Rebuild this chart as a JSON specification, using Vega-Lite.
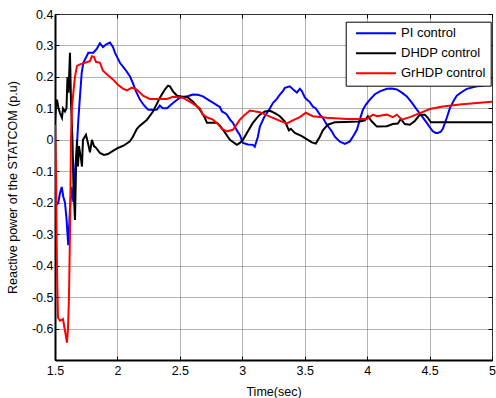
{
  "$schema": "https://vega.github.io/schema/vega-lite/v6.json",
  "width": 437,
  "height": 346,
  "autosize": "none",
  "padding": {"left": 55, "top": 14, "right": 4, "bottom": 38},
  "background": "white",
  "config": {
    "font": "Liberation Sans",
    "view": {"stroke": "black", "strokeWidth": 1},
    "axis": {
      "labelFont": "Liberation Sans", "labelFontSize": 12.5, "labelColor": "black",
      "titleFont": "Liberation Sans", "titleFontSize": 12.5, "titleFontWeight": "normal", "titleColor": "black",
      "domainColor": "black", "domainWidth": 2,
      "tickColor": "black", "tickSize": -4, "tickWidth": 1,
      "gridColor": "#666666", "gridDash": [1, 1], "gridWidth": 1, "gridOpacity": 1
    }
  },
  "data": {"values": [
    {"s":"PI control","t":1.5,"v":-0.19},{"s":"PI control","t":1.516,"v":-0.205},{"s":"PI control","t":1.526,"v":-0.2},{"s":"PI control","t":1.54,"v":-0.17},{"s":"PI control","t":1.554,"v":-0.15},{"s":"PI control","t":1.566,"v":-0.18},{"s":"PI control","t":1.58,"v":-0.2},{"s":"PI control","t":1.592,"v":-0.25},{"s":"PI control","t":1.606,"v":-0.335},{"s":"PI control","t":1.62,"v":-0.22},{"s":"PI control","t":1.632,"v":-0.15},{"s":"PI control","t":1.647,"v":-0.197},{"s":"PI control","t":1.66,"v":-0.1},{"s":"PI control","t":1.674,"v":-0.03},{"s":"PI control","t":1.687,"v":0.064},{"s":"PI control","t":1.7,"v":0.138},{"s":"PI control","t":1.714,"v":0.214},{"s":"PI control","t":1.727,"v":0.245},{"s":"PI control","t":1.767,"v":0.277},{"s":"PI control","t":1.807,"v":0.277},{"s":"PI control","t":1.836,"v":0.29},{"s":"PI control","t":1.86,"v":0.307},{"s":"PI control","t":1.884,"v":0.295},{"s":"PI control","t":1.908,"v":0.303},{"s":"PI control","t":1.94,"v":0.309},{"s":"PI control","t":1.964,"v":0.295},{"s":"PI control","t":1.98,"v":0.277},{"s":"PI control","t":2.02,"v":0.245},{"s":"PI control","t":2.06,"v":0.225},{"s":"PI control","t":2.1,"v":0.202},{"s":"PI control","t":2.124,"v":0.18},{"s":"PI control","t":2.148,"v":0.155},{"s":"PI control","t":2.18,"v":0.128},{"s":"PI control","t":2.212,"v":0.11},{"s":"PI control","t":2.245,"v":0.096},{"s":"PI control","t":2.285,"v":0.095},{"s":"PI control","t":2.317,"v":0.096},{"s":"PI control","t":2.34,"v":0.109},{"s":"PI control","t":2.364,"v":0.1},{"s":"PI control","t":2.397,"v":0.1},{"s":"PI control","t":2.445,"v":0.117},{"s":"PI control","t":2.5,"v":0.134},{"s":"PI control","t":2.557,"v":0.138},{"s":"PI control","t":2.605,"v":0.144},{"s":"PI control","t":2.645,"v":0.143},{"s":"PI control","t":2.685,"v":0.138},{"s":"PI control","t":2.725,"v":0.128},{"s":"PI control","t":2.765,"v":0.118},{"s":"PI control","t":2.805,"v":0.108},{"s":"PI control","t":2.82,"v":0.105},{"s":"PI control","t":2.837,"v":0.09},{"s":"PI control","t":2.861,"v":0.085},{"s":"PI control","t":2.877,"v":0.08},{"s":"PI control","t":2.9,"v":0.065},{"s":"PI control","t":2.925,"v":0.054},{"s":"PI control","t":2.957,"v":0.03},{"s":"PI control","t":2.981,"v":0.015},{"s":"PI control","t":3.005,"v":-0.01},{"s":"PI control","t":3.045,"v":-0.015},{"s":"PI control","t":3.085,"v":-0.016},{"s":"PI control","t":3.1,"v":-0.022},{"s":"PI control","t":3.125,"v":0.01},{"s":"PI control","t":3.141,"v":0.042},{"s":"PI control","t":3.173,"v":0.07},{"s":"PI control","t":3.197,"v":0.085},{"s":"PI control","t":3.221,"v":0.1},{"s":"PI control","t":3.245,"v":0.117},{"s":"PI control","t":3.277,"v":0.13},{"s":"PI control","t":3.301,"v":0.144},{"s":"PI control","t":3.325,"v":0.155},{"s":"PI control","t":3.341,"v":0.165},{"s":"PI control","t":3.381,"v":0.17},{"s":"PI control","t":3.413,"v":0.158},{"s":"PI control","t":3.437,"v":0.15},{"s":"PI control","t":3.461,"v":0.162},{"s":"PI control","t":3.477,"v":0.155},{"s":"PI control","t":3.501,"v":0.135},{"s":"PI control","t":3.517,"v":0.128},{"s":"PI control","t":3.541,"v":0.12},{"s":"PI control","t":3.565,"v":0.106},{"s":"PI control","t":3.589,"v":0.1},{"s":"PI control","t":3.621,"v":0.08},{"s":"PI control","t":3.645,"v":0.07},{"s":"PI control","t":3.677,"v":0.048},{"s":"PI control","t":3.693,"v":0.04},{"s":"PI control","t":3.717,"v":0.027},{"s":"PI control","t":3.741,"v":0.01},{"s":"PI control","t":3.782,"v":-0.006},{"s":"PI control","t":3.822,"v":-0.013},{"s":"PI control","t":3.862,"v":-0.005},{"s":"PI control","t":3.894,"v":0.015},{"s":"PI control","t":3.918,"v":0.032},{"s":"PI control","t":3.942,"v":0.065},{"s":"PI control","t":3.966,"v":0.096},{"s":"PI control","t":3.99,"v":0.112},{"s":"PI control","t":4.022,"v":0.128},{"s":"PI control","t":4.062,"v":0.145},{"s":"PI control","t":4.102,"v":0.154},{"s":"PI control","t":4.158,"v":0.162},{"s":"PI control","t":4.198,"v":0.163},{"s":"PI control","t":4.238,"v":0.16},{"s":"PI control","t":4.278,"v":0.15},{"s":"PI control","t":4.318,"v":0.138},{"s":"PI control","t":4.358,"v":0.118},{"s":"PI control","t":4.398,"v":0.096},{"s":"PI control","t":4.438,"v":0.075},{"s":"PI control","t":4.478,"v":0.054},{"s":"PI control","t":4.502,"v":0.04},{"s":"PI control","t":4.526,"v":0.027},{"s":"PI control","t":4.55,"v":0.022},{"s":"PI control","t":4.566,"v":0.022},{"s":"PI control","t":4.59,"v":0.026},{"s":"PI control","t":4.606,"v":0.035},{"s":"PI control","t":4.638,"v":0.07},{"s":"PI control","t":4.662,"v":0.1},{"s":"PI control","t":4.694,"v":0.125},{"s":"PI control","t":4.718,"v":0.14},{"s":"PI control","t":4.758,"v":0.152},{"s":"PI control","t":4.798,"v":0.162},{"s":"PI control","t":4.838,"v":0.166},{"s":"PI control","t":4.878,"v":0.17},{"s":"PI control","t":4.91,"v":0.171},{"s":"PI control","t":4.942,"v":0.174},{"s":"PI control","t":4.966,"v":0.182},{"s":"PI control","t":4.982,"v":0.192},{"s":"PI control","t":5.0,"v":0.2},

    {"s":"DHDP control","t":1.5,"v":0.06},{"s":"DHDP control","t":1.508,"v":0.11},{"s":"DHDP control","t":1.516,"v":0.128},{"s":"DHDP control","t":1.528,"v":0.1},{"s":"DHDP control","t":1.54,"v":0.085},{"s":"DHDP control","t":1.556,"v":0.07},{"s":"DHDP control","t":1.564,"v":0.1},{"s":"DHDP control","t":1.58,"v":0.09},{"s":"DHDP control","t":1.592,"v":0.1},{"s":"DHDP control","t":1.6,"v":0.2},{"s":"DHDP control","t":1.608,"v":0.15},{"s":"DHDP control","t":1.62,"v":0.277},{"s":"DHDP control","t":1.628,"v":0.12},{"s":"DHDP control","t":1.64,"v":0.0},{"s":"DHDP control","t":1.648,"v":-0.15},{"s":"DHDP control","t":1.66,"v":-0.255},{"s":"DHDP control","t":1.668,"v":-0.1},{"s":"DHDP control","t":1.676,"v":0.0},{"s":"DHDP control","t":1.684,"v":-0.085},{"s":"DHDP control","t":1.692,"v":-0.02},{"s":"DHDP control","t":1.708,"v":-0.06},{"s":"DHDP control","t":1.716,"v":-0.085},{"s":"DHDP control","t":1.724,"v":0.0},{"s":"DHDP control","t":1.748,"v":0.016},{"s":"DHDP control","t":1.764,"v":-0.01},{"s":"DHDP control","t":1.78,"v":-0.04},{"s":"DHDP control","t":1.796,"v":0.0},{"s":"DHDP control","t":1.812,"v":-0.02},{"s":"DHDP control","t":1.828,"v":-0.025},{"s":"DHDP control","t":1.86,"v":-0.042},{"s":"DHDP control","t":1.892,"v":-0.048},{"s":"DHDP control","t":1.924,"v":-0.045},{"s":"DHDP control","t":1.964,"v":-0.035},{"s":"DHDP control","t":2.004,"v":-0.026},{"s":"DHDP control","t":2.052,"v":-0.018},{"s":"DHDP control","t":2.1,"v":-0.005},{"s":"DHDP control","t":2.124,"v":0.01},{"s":"DHDP control","t":2.156,"v":0.035},{"s":"DHDP control","t":2.18,"v":0.045},{"s":"DHDP control","t":2.237,"v":0.064},{"s":"DHDP control","t":2.285,"v":0.09},{"s":"DHDP control","t":2.317,"v":0.115},{"s":"DHDP control","t":2.34,"v":0.134},{"s":"DHDP control","t":2.38,"v":0.16},{"s":"DHDP control","t":2.405,"v":0.172},{"s":"DHDP control","t":2.42,"v":0.17},{"s":"DHDP control","t":2.445,"v":0.154},{"s":"DHDP control","t":2.477,"v":0.14},{"s":"DHDP control","t":2.525,"v":0.137},{"s":"DHDP control","t":2.557,"v":0.137},{"s":"DHDP control","t":2.605,"v":0.121},{"s":"DHDP control","t":2.661,"v":0.096},{"s":"DHDP control","t":2.7,"v":0.07},{"s":"DHDP control","t":2.717,"v":0.054},{"s":"DHDP control","t":2.797,"v":0.054},{"s":"DHDP control","t":2.821,"v":0.045},{"s":"DHDP control","t":2.845,"v":0.032},{"s":"DHDP control","t":2.901,"v":0.0},{"s":"DHDP control","t":2.957,"v":-0.016},{"s":"DHDP control","t":2.981,"v":-0.01},{"s":"DHDP control","t":3.005,"v":0.0},{"s":"DHDP control","t":3.037,"v":0.022},{"s":"DHDP control","t":3.061,"v":0.038},{"s":"DHDP control","t":3.085,"v":0.054},{"s":"DHDP control","t":3.117,"v":0.07},{"s":"DHDP control","t":3.141,"v":0.08},{"s":"DHDP control","t":3.181,"v":0.09},{"s":"DHDP control","t":3.221,"v":0.092},{"s":"DHDP control","t":3.261,"v":0.085},{"s":"DHDP control","t":3.301,"v":0.075},{"s":"DHDP control","t":3.341,"v":0.058},{"s":"DHDP control","t":3.357,"v":0.045},{"s":"DHDP control","t":3.373,"v":0.03},{"s":"DHDP control","t":3.389,"v":0.035},{"s":"DHDP control","t":3.421,"v":0.022},{"s":"DHDP control","t":3.477,"v":0.012},{"s":"DHDP control","t":3.525,"v":0.0},{"s":"DHDP control","t":3.557,"v":-0.008},{"s":"DHDP control","t":3.589,"v":-0.012},{"s":"DHDP control","t":3.621,"v":0.01},{"s":"DHDP control","t":3.645,"v":0.03},{"s":"DHDP control","t":3.685,"v":0.048},{"s":"DHDP control","t":3.741,"v":0.056},{"s":"DHDP control","t":3.822,"v":0.057},{"s":"DHDP control","t":3.942,"v":0.058},{"s":"DHDP control","t":3.982,"v":0.062},{"s":"DHDP control","t":4.006,"v":0.075},{"s":"DHDP control","t":4.038,"v":0.058},{"s":"DHDP control","t":4.078,"v":0.042},{"s":"DHDP control","t":4.158,"v":0.043},{"s":"DHDP control","t":4.206,"v":0.05},{"s":"DHDP control","t":4.246,"v":0.052},{"s":"DHDP control","t":4.27,"v":0.066},{"s":"DHDP control","t":4.302,"v":0.05},{"s":"DHDP control","t":4.342,"v":0.048},{"s":"DHDP control","t":4.382,"v":0.06},{"s":"DHDP control","t":4.422,"v":0.08},{"s":"DHDP control","t":4.462,"v":0.08},{"s":"DHDP control","t":4.486,"v":0.07},{"s":"DHDP control","t":4.51,"v":0.056},{"s":"DHDP control","t":5.0,"v":0.056},

    {"s":"GrHDP control","t":1.5,"v":0.048},{"s":"GrHDP control","t":1.508,"v":-0.1},{"s":"GrHDP control","t":1.516,"v":-0.415},{"s":"GrHDP control","t":1.524,"v":-0.565},{"s":"GrHDP control","t":1.54,"v":-0.575},{"s":"GrHDP control","t":1.564,"v":-0.57},{"s":"GrHDP control","t":1.58,"v":-0.607},{"s":"GrHDP control","t":1.596,"v":-0.645},{"s":"GrHDP control","t":1.604,"v":-0.6},{"s":"GrHDP control","t":1.612,"v":-0.5},{"s":"GrHDP control","t":1.62,"v":-0.3},{"s":"GrHDP control","t":1.628,"v":0.0},{"s":"GrHDP control","t":1.636,"v":0.105},{"s":"GrHDP control","t":1.652,"v":0.17},{"s":"GrHDP control","t":1.66,"v":0.2},{"s":"GrHDP control","t":1.676,"v":0.235},{"s":"GrHDP control","t":1.7,"v":0.24},{"s":"GrHDP control","t":1.74,"v":0.245},{"s":"GrHDP control","t":1.78,"v":0.25},{"s":"GrHDP control","t":1.796,"v":0.266},{"s":"GrHDP control","t":1.812,"v":0.264},{"s":"GrHDP control","t":1.828,"v":0.248},{"s":"GrHDP control","t":1.86,"v":0.245},{"s":"GrHDP control","t":1.884,"v":0.22},{"s":"GrHDP control","t":1.924,"v":0.205},{"s":"GrHDP control","t":1.964,"v":0.192},{"s":"GrHDP control","t":2.004,"v":0.175},{"s":"GrHDP control","t":2.045,"v":0.163},{"s":"GrHDP control","t":2.076,"v":0.157},{"s":"GrHDP control","t":2.116,"v":0.166},{"s":"GrHDP control","t":2.156,"v":0.16},{"s":"GrHDP control","t":2.205,"v":0.14},{"s":"GrHDP control","t":2.26,"v":0.13},{"s":"GrHDP control","t":2.317,"v":0.13},{"s":"GrHDP control","t":2.397,"v":0.13},{"s":"GrHDP control","t":2.445,"v":0.137},{"s":"GrHDP control","t":2.525,"v":0.134},{"s":"GrHDP control","t":2.605,"v":0.115},{"s":"GrHDP control","t":2.661,"v":0.1},{"s":"GrHDP control","t":2.685,"v":0.08},{"s":"GrHDP control","t":2.725,"v":0.07},{"s":"GrHDP control","t":2.765,"v":0.064},{"s":"GrHDP control","t":2.805,"v":0.05},{"s":"GrHDP control","t":2.837,"v":0.035},{"s":"GrHDP control","t":2.877,"v":0.027},{"s":"GrHDP control","t":2.925,"v":0.032},{"s":"GrHDP control","t":2.957,"v":0.05},{"s":"GrHDP control","t":2.981,"v":0.064},{"s":"GrHDP control","t":3.021,"v":0.08},{"s":"GrHDP control","t":3.061,"v":0.093},{"s":"GrHDP control","t":3.141,"v":0.088},{"s":"GrHDP control","t":3.245,"v":0.07},{"s":"GrHDP control","t":3.317,"v":0.058},{"s":"GrHDP control","t":3.357,"v":0.052},{"s":"GrHDP control","t":3.405,"v":0.062},{"s":"GrHDP control","t":3.461,"v":0.072},{"s":"GrHDP control","t":3.509,"v":0.086},{"s":"GrHDP control","t":3.565,"v":0.075},{"s":"GrHDP control","t":3.677,"v":0.07},{"s":"GrHDP control","t":3.838,"v":0.066},{"s":"GrHDP control","t":3.998,"v":0.066},{"s":"GrHDP control","t":4.046,"v":0.08},{"s":"GrHDP control","t":4.078,"v":0.075},{"s":"GrHDP control","t":4.158,"v":0.08},{"s":"GrHDP control","t":4.206,"v":0.072},{"s":"GrHDP control","t":4.238,"v":0.08},{"s":"GrHDP control","t":4.278,"v":0.064},{"s":"GrHDP control","t":4.342,"v":0.072},{"s":"GrHDP control","t":4.422,"v":0.085},{"s":"GrHDP control","t":4.502,"v":0.098},{"s":"GrHDP control","t":4.606,"v":0.106},{"s":"GrHDP control","t":4.742,"v":0.112},{"s":"GrHDP control","t":4.878,"v":0.117},{"s":"GrHDP control","t":5.0,"v":0.121}
  ]},
  "layer": [
    {
      "mark": {"type": "line", "strokeWidth": 2, "clip": true},
      "encoding": {
        "x": {
          "field": "t", "type": "quantitative",
          "scale": {"domain": [1.5, 5], "nice": false, "zero": false},
          "axis": {"orient": "bottom", "title": "Time(sec)", "values": [1.5, 2, 2.5, 3, 3.5, 4, 4.5, 5], "labelExpr": "toString(datum.value)", "labelPadding": 8.5, "titlePadding": 8, "labelFlush": false}
        },
        "y": {
          "field": "v", "type": "quantitative",
          "scale": {"domain": [-0.7, 0.4], "nice": false, "zero": false},
          "axis": {"orient": "left", "title": "Reactive power of the STATCOM (p.u)", "values": [-0.6, -0.5, -0.4, -0.3, -0.2, -0.1, 0, 0.1, 0.2, 0.3, 0.4], "labelExpr": "toString(datum.value)", "labelPadding": 6, "titlePadding": 12}
        },
        "color": {
          "field": "s", "type": "nominal",
          "scale": {"domain": ["PI control", "DHDP control", "GrHDP control"], "range": ["#0000ff", "#000000", "#ff0000"]},
          "legend": {
            "title": null, "orient": "none", "legendX": 290.7, "legendY": 7.7,
            "symbolType": "M-5,0H5", "symbolSize": 64, "symbolStrokeWidth": 2,
            "labelFont": "Liberation Sans", "labelFontSize": 13, "labelColor": "black",
            "strokeColor": "black", "fillColor": "white", "padding": 5, "rowPadding": 6, "labelOffset": 18.5, "symbolOffset": 18.8
          }
        }
      }
    },
    {
      "mark": {"type": "point", "opacity": 0, "size": 1},
      "encoding": {
        "x": {
          "field": "t", "type": "quantitative",
          "axis": {"orient": "top", "title": null, "values": [1.5, 2, 2.5, 3, 3.5, 4, 4.5, 5], "labels": false, "domain": false, "grid": false}
        },
        "y": {
          "field": "v", "type": "quantitative",
          "axis": {"orient": "right", "title": null, "values": [-0.6, -0.5, -0.4, -0.3, -0.2, -0.1, 0, 0.1, 0.2, 0.3, 0.4], "labels": false, "domain": false, "grid": false}
        }
      }
    }
  ]
}
